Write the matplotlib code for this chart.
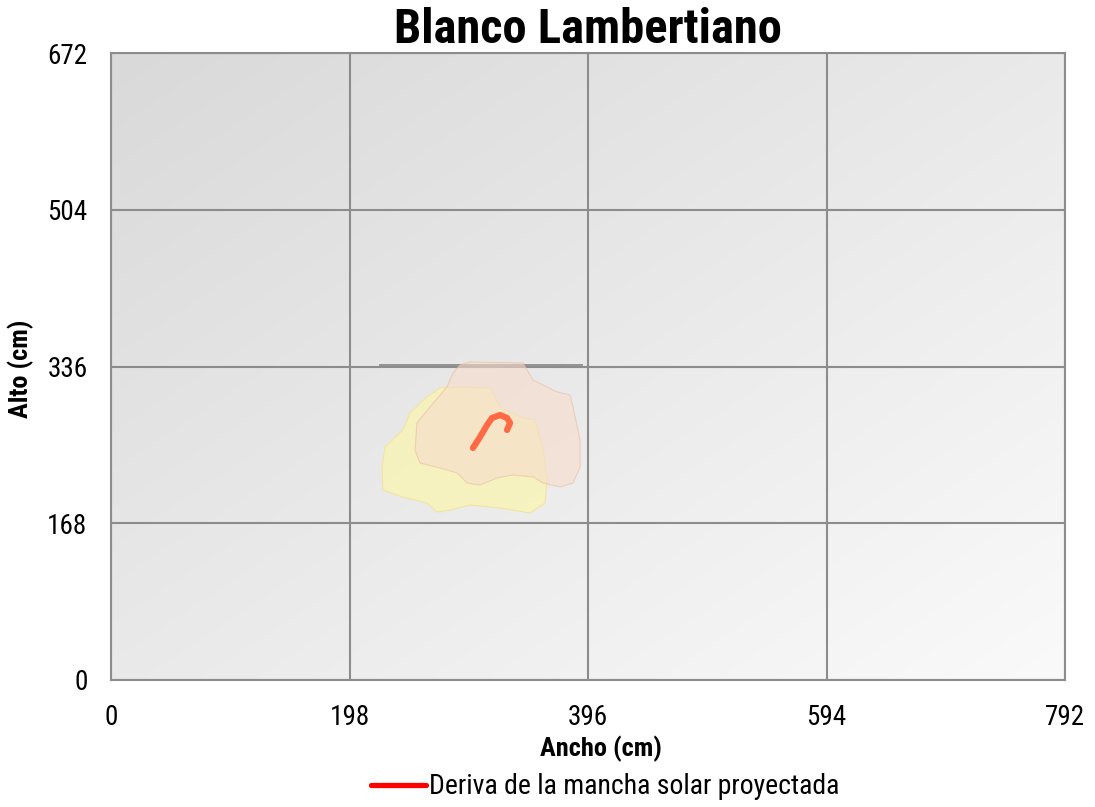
import matplotlib.pyplot as plt
import numpy as np
from matplotlib.lines import Line2D

plt.rcParams["font.family"] = ["Roboto Condensed", "DejaVu Sans"]

# ---- data (cm) ----
x_ticks = [0, 198, 396, 594, 792]
y_ticks = [0, 168, 336, 504, 672]

# manchas de luz (contornos)
mancha_a_x = [273.1, 262.3, 248.2, 242.4, 227.5, 225.0, 225.8, 242.4, 262.3, 270.6, 281.4,
              298.0, 323.0, 347.9, 360.3, 362.0, 358.7, 352.0, 342.0, 323.0, 314.7, 289.7]
mancha_a_y = [313.0, 303.3, 286.2, 268.0, 249.7, 228.3, 203.6, 196.1, 189.7, 180.1, 182.2,
              187.6, 184.4, 179.0, 189.7, 214.4, 246.5, 278.7, 280.8, 292.6, 313.0, 314.0]

mancha_b_x = [298.0, 342.0, 350.4, 370.3, 381.1, 383.6, 389.4, 389.4, 383.6, 372.8, 358.7,
              350.4, 333.7, 320.5, 306.4, 295.6, 287.3, 273.1, 256.5, 252.4, 254.0, 264.8,
              278.9, 283.9, 289.7]
mancha_b_y = [340.8, 339.8, 321.5, 308.7, 305.5, 292.6, 257.2, 228.3, 211.1, 206.9, 211.1,
              217.6, 219.7, 216.5, 209.0, 211.1, 221.9, 227.2, 232.6, 246.5, 275.5, 292.6,
              314.0, 329.0, 337.6]

# deriva del centro de la mancha
deriva_x = [300.5, 306.4, 312.2, 316.3, 323.0, 328.8, 331.3, 328.8]
deriva_y = [248.7, 260.5, 273.3, 280.8, 284.0, 280.8, 275.5, 268.0]

grid_c = "#8c8c8c"

fig = plt.figure(figsize=(10.95, 8.07), dpi=100)
ax = fig.add_axes([111 / 1095, 127 / 807, 954 / 1095, 627 / 807])

# fondo degradado gris (arriba-izq oscuro, abajo-der claro)
gx, gy = np.meshgrid(np.linspace(0, 1, 300), np.linspace(0, 1, 300))
g = (217 + (250 - 217) * (gx + gy) / 2) / 255
ax.imshow(np.dstack([g, g, g]), extent=[0, 792, 0, 672], origin="upper",
          aspect="auto", zorder=0, interpolation="bilinear")

ax.fill(mancha_a_x, mancha_a_y, color="#fbf6ae", alpha=0.7, ec="#f2e08a", lw=0.8, zorder=2)
ax.fill(mancha_b_x, mancha_b_y, color="#f7dccb", alpha=0.6, ec="#e9bea2", lw=0.8, zorder=3)
ax.plot(deriva_x, deriva_y, color="#ff6a45", lw=4.5, solid_capstyle="round", zorder=4)
ax.plot([223, 391], [337.3, 337.3], color=grid_c, lw=1.3, zorder=1.5)

ax.set_xlim(0, 792)
ax.set_ylim(0, 672)
ax.set_xticks(x_ticks)
ax.set_yticks(y_ticks)
ax.grid(True, color=grid_c, lw=1.5, zorder=1)
ax.set_axisbelow(False)
for line in ax.get_xgridlines() + ax.get_ygridlines():
    line.set_zorder(1)
for s in ax.spines.values():
    s.set_color(grid_c)
    s.set_linewidth(1.5)
ax.tick_params(length=0, labelsize=19.5, pad=17)

ax.set_title("Blanco Lambertiano", fontsize=35, fontweight="bold", pad=5)
ax.set_xlabel("Ancho (cm)", fontsize=19, fontweight="bold")
ax.set_ylabel("Alto (cm)", fontsize=19, fontweight="bold")
ax.xaxis.set_label_coords(0.514, -0.089)
ax.yaxis.set_label_coords(-0.081, 0.497)

handle = Line2D([], [], color="red", lw=3.8, solid_capstyle="round")
fig.legend([handle], ["Deriva de la mancha solar proyectada"], loc="center",
           bbox_to_anchor=(605 / 1095, 1 - 787 / 807), frameon=False, fontsize=20,
           handlelength=2.0, handletextpad=0.08)

fig.savefig("out.png", dpi=100)
